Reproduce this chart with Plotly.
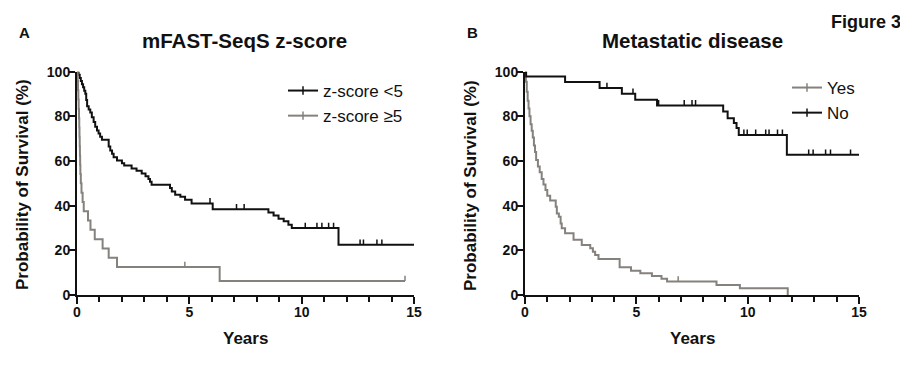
import plotly.graph_objects as go

# ---------------- data ----------------
# Panel A: mFAST-SeqS z-score
lo_times = [0, 0.07, 0.12, 0.17, 0.22, 0.27, 0.32, 0.37, 0.41, 0.45, 0.52, 0.59, 0.66, 0.74,
            0.81, 0.89, 0.96, 1.03, 1.11, 1.41, 1.48, 1.56, 1.63, 1.78, 2.0, 2.1, 2.43, 2.65,
            2.88, 3.05, 3.18, 3.25, 3.32, 4.14, 4.22, 4.37, 4.6, 4.81, 5.1, 6.04, 8.52, 8.75,
            8.97, 9.2, 9.41, 9.56, 11.64]
lo_surv = [100, 98.6, 97.2, 95.8, 94.4, 93.0, 91.5, 90.1, 87.3, 84.5, 83.1, 81.7, 79.6, 77.5,
           75.4, 73.7, 72.3, 70.9, 69.5, 66.5, 64.7, 63.2, 61.7, 60.2, 59.0, 58.0, 56.6, 55.6,
           54.4, 53.2, 52.0, 50.7, 49.4, 47.9, 46.4, 44.9, 44.0, 42.7, 41.0, 38.4, 37.0, 35.6,
           34.2, 33.0, 31.5, 30.0, 22.5]
lo_end = 15.0
lo_censor = [5.92, 7.1, 7.44, 10.16, 10.68, 10.9, 11.2, 11.42, 12.6, 12.75, 13.35, 13.57]

hi_times = [0, 0.03, 0.045, 0.06, 0.075, 0.09, 0.1, 0.11, 0.12, 0.13, 0.14, 0.15, 0.17, 0.2,
            0.25, 0.3, 0.49, 0.6, 0.79, 1.14, 1.41, 1.78, 6.35]
hi_surv = [100, 95.83, 91.67, 87.5, 83.33, 79.17, 75, 70.83, 66.67, 62.5, 58.33, 54.17, 50,
           45.83, 41.67, 37.5, 33.33, 29.17, 25, 20.83, 16.67, 12.5, 6.25]
hi_end = 14.6
hi_censor = [4.8, 14.6]

# Panel B: Metastatic disease
no_times = [0, 0.05, 1.8, 3.35, 4.35, 4.95, 5.93, 8.9, 9.1, 9.38, 9.5, 9.6, 11.76]
no_surv = [100, 97.9, 95.4, 92.7, 90.1, 87.4, 84.9, 82.2, 79.2, 77.0, 74.8, 71.7, 62.8]
no_end = 15.0
no_censor = [3.68, 4.85, 6.0, 7.15, 7.5, 7.66, 9.83, 9.98, 10.36, 10.81, 10.96, 11.34, 11.56,
             12.74, 12.94, 13.5, 13.72, 14.62]

yes_times = [0, 0.04, 0.08, 0.12, 0.16, 0.2, 0.25, 0.3, 0.35, 0.4, 0.45, 0.5, 0.58, 0.66, 0.75,
             0.83, 0.92, 1.0, 1.13, 1.38, 1.43, 1.52, 1.6, 1.65, 1.8, 2.18, 2.55, 2.93, 3.05,
             3.15, 3.3, 4.25, 4.76, 5.18, 5.7, 6.13, 6.38, 8.6, 9.65, 11.8]
yes_surv = [100, 95.5, 91, 87, 83.5, 80, 76.5, 73.5, 70.5, 67, 64, 60.5, 57.5, 55, 52, 49.5,
            47, 44.5, 42.3, 39.5, 36.5, 35.0, 32.0, 29.9, 27.7, 24.7, 22.4, 20.9, 19.4, 17.9,
            16.1, 12.4, 10.9, 9.7, 8.5, 7.3, 6.0, 4.5, 3.0, 0]
yes_end = 11.8
yes_censor = [6.88]

x_ticks = [0, 5, 10, 15]
y_ticks = [0, 20, 40, 60, 80, 100]

BLACK = "#111111"
GRAY = "#85817d"
FONT = "Liberation Sans, Arial, sans-serif"
W, H = 908, 369
OFF = 8  # the page body adds an 8px margin; positions below are page pixels


def px(x):
    return (x - OFF) / W


def py(y):
    return 1 - (y - OFF) / H


def step_value(times, surv, t):
    v = surv[0]
    for ti, si in zip(times, surv):
        if ti <= t:
            v = si
    return v


def add_km(fig, times, surv, end, censor, color, name, xa, ya, legend):
    fig.add_trace(go.Scatter(
        x=times + [end], y=surv + [surv[-1]], mode="lines", line=dict(color=color, width=2, shape="hv"),
        xaxis=xa, yaxis=ya, showlegend=False, hoverinfo="skip"))
    # censor ticks drawn as short upward strokes
    fig.add_trace(go.Scatter(
        x=censor, y=[step_value(times, surv, c) for c in censor], mode="markers",
        marker=dict(size=1, color=color, opacity=0),
        error_y=dict(type="constant", value=2.4, valueminus=0, symmetric=False,
                     thickness=1.5, width=0, color=color),
        xaxis=xa, yaxis=ya, showlegend=False, hoverinfo="skip"))
    fig.add_trace(go.Scatter(
        x=[None], y=[None], mode="lines+markers", name=name,
        line=dict(color=color, width=2),
        marker=dict(symbol="line-ns", size=6, line=dict(color=color, width=1.5)),
        xaxis=xa, yaxis=ya, legend=legend))


fig = go.Figure()
add_km(fig, lo_times, lo_surv, lo_end, lo_censor, BLACK, "z-score <5", "x", "y", "legend")
add_km(fig, hi_times, hi_surv, hi_end, hi_censor, GRAY, "z-score ≥5", "x", "y", "legend")
add_km(fig, yes_times, yes_surv, yes_end, yes_censor, GRAY, "Yes", "x2", "y2", "legend2")
add_km(fig, no_times, no_surv, no_end, no_censor, BLACK, "No", "x2", "y2", "legend2")

tickfont = dict(family=FONT, size=14, color=BLACK, weight="bold")


def xaxis(x0, x1, anchor):
    return dict(domain=[px(x0), px(x1)], anchor=anchor, range=[0, 15], tickvals=x_ticks,
                ticks="outside", ticklen=7, tickwidth=2, tickcolor=BLACK,
                showline=True, linewidth=2, linecolor=BLACK, showgrid=False, zeroline=False,
                tickfont=tickfont, automargin=False, ticklabelstandoff=-4,
                minor=dict(dtick=1, tick0=0, ticks="outside", ticklen=5, tickwidth=1.5,
                           tickcolor=BLACK, showgrid=False))


def yaxis(y_top, y_bot, anchor):
    return dict(domain=[py(y_bot), py(y_top)], anchor=anchor, range=[0, 100], tickvals=y_ticks,
                ticks="outside", ticklen=6, tickwidth=2, tickcolor=BLACK,
                showline=True, linewidth=2, linecolor=BLACK, showgrid=False, zeroline=False,
                tickfont=tickfont, automargin=False, ticklabelstandoff=-4)


fig.update_layout(
    width=W, height=H, margin=dict(l=0, r=0, t=0, b=0, autoexpand=False),
    paper_bgcolor="white", plot_bgcolor="white",
    xaxis=xaxis(77, 414, "y"),
    yaxis=yaxis(71.7, 295, "x"),
    xaxis2=xaxis(525, 859, "y2"),
    yaxis2=yaxis(71.7, 295, "x2"),
    legend=dict(x=px(283), y=py(73), xanchor="left", yanchor="top",
                bgcolor="rgba(0,0,0,0)", font=dict(family=FONT, size=17, color=BLACK),
                tracegroupgap=0),
    legend2=dict(x=px(787), y=py(70), xanchor="left", yanchor="top",
                 bgcolor="rgba(0,0,0,0)", font=dict(family=FONT, size=17, color=BLACK),
                 tracegroupgap=0),
)


def ann(text, x, y, size, angle=0, bold=True):
    fig.add_annotation(text=text, x=px(x), y=py(y), xref="paper", yref="paper",
                       showarrow=False, textangle=angle, xanchor="center", yanchor="middle",
                       font=dict(family=FONT, size=size, color=BLACK,
                                 weight="bold" if bold else "normal"))


ann("A", 24, 32, 15)
ann("B", 472, 32, 15)
ann("Figure 3", 866, 22, 18)
ann("mFAST-SeqS z-score", 245, 40, 20.5)
ann("Metastatic disease", 692, 40, 20.5)
ann("Probability of Survival (%)", 22, 185, 17, angle=-90)
ann("Probability of Survival (%)", 470, 185, 17, angle=-90)
ann("Years", 245.5, 338, 17)
ann("Years", 692, 338, 17)

fig.write_html("out.html")
